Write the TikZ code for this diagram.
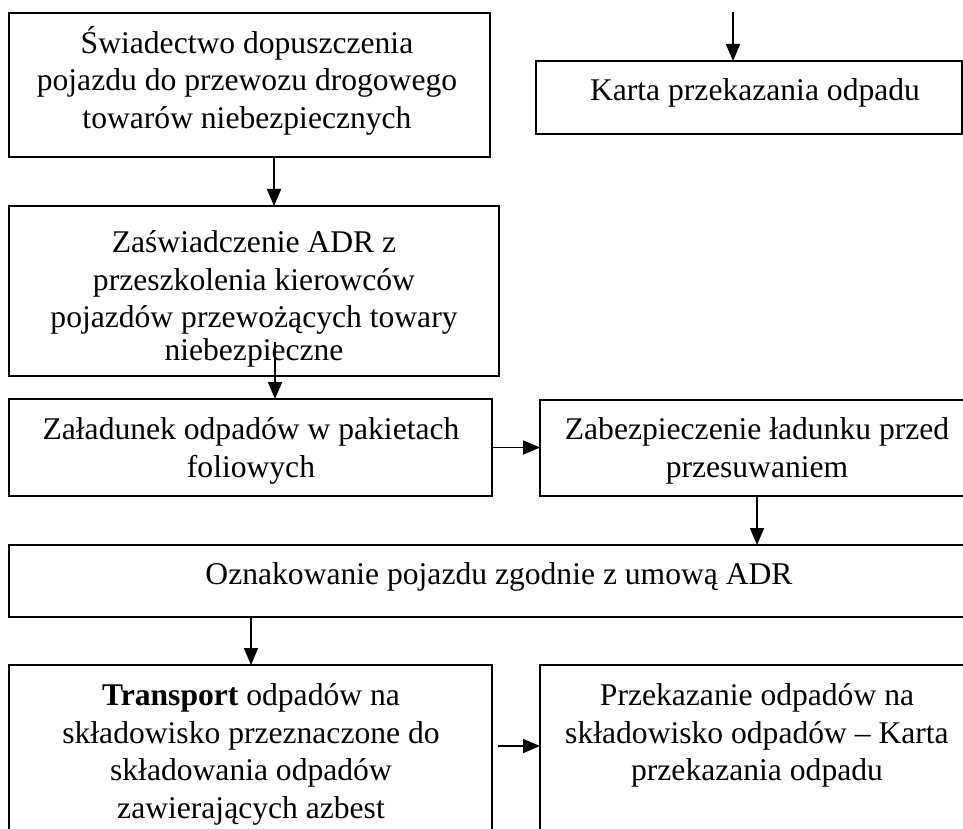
\documentclass[tikz,border=0pt]{standalone}
\usepackage{fontspec}
\setmainfont{Liberation Serif}
\usetikzlibrary{arrows.meta}
\begin{document}
\begin{tikzpicture}[x=1pt,y=-1pt,
  box/.style={draw, line width=1.8pt, anchor=north west, inner sep=0pt, outer sep=0pt},
  txt/.style={anchor=north, align=center, inner sep=0pt, font=\fontsize{31.6}{37.8}\selectfont},
  arr/.style={line width=1.8pt, -{Triangle[length=17pt,width=14pt]}}]
\useasboundingbox (0,0) rectangle (963,829);
\clip (0,0) rectangle (963,829);
% boxes
\node[box, minimum width=481pt, minimum height=144pt] (b1) at (9,13) {};
\node[box, minimum width=426pt, minimum height=73pt] (bk) at (536,61) {};
\node[box, minimum width=490pt, minimum height=170pt] (b3) at (9,206) {};
\node[box, minimum width=483pt, minimum height=97pt] (bz) at (9,399) {};
\node[box, minimum width=440pt, minimum height=96pt] (bzab) at (540,400) {};
\node[box, minimum width=970pt, minimum height=72pt] (bo) at (9,545) {};
\node[box, minimum width=483pt, minimum height=200pt] (btr) at (9,665) {};
\node[box, minimum width=440pt, minimum height=200pt] (bprz) at (540,665) {};
% texts
\node[txt] (t1) at (247,23) {\rule{0pt}{30pt}Świadectwo dopuszczenia\\pojazdu do przewozu drogowego\\towarów niebezpiecznych};
\node[txt] (tk) at (755,70) {\rule{0pt}{30pt}Karta przekazania odpadu};
\node[txt] (t3) at (254,222) {\rule{0pt}{30pt}Zaświadczenie ADR z\\przeszkolenia kierowców\\pojazdów przewożących towary\\[-5.5pt]niebezpieczne};
\node[txt] (tz) at (251,409) {\rule{0pt}{30pt}Załadunek odpadów w pakietach\\foliowych};
\node[txt] (tzab) at (757,409) {\rule{0pt}{30pt}Zabezpieczenie ładunku przed\\przesuwaniem};
\node[txt] (to) at (499,554) {\rule{0pt}{30pt}Oznakowanie pojazdu zgodnie z umową ADR};
\node[txt] (ttr) at (251,675) {\rule{0pt}{30pt}\textbf{Transport} odpadów na\\składowisko przeznaczone do\\składowania odpadów\\zawierających azbest};
\node[txt] (tprz) at (757,675) {\rule{0pt}{30pt}Przekazanie odpadów na\\składowisko odpadów – Karta\\przekazania odpadu};
% connectors
\coordinate (k0) at (733,12);
\coordinate (c3) at (275,342);
\coordinate (c7) at (498,746);
\draw[arr] ([xshift=265pt]b1.south west) coordinate (a1s) -- (a1s |- b3.north);
\draw[arr] (k0) -- (k0 |- bk.north);
\draw[arr] (c3) -- (c3 |- bz.north);
\draw[arr] (bz.east) -- (bz.east -| bzab.west);
\draw[arr] ([xshift=217pt]bzab.south west) coordinate (a5s) -- (a5s |- bo.north);
\draw[arr] ([xshift=242pt]bo.south west) coordinate (a6s) -- (a6s |- btr.north);
\draw[arr] (c7) -- (c7 -| bprz.west);
\end{tikzpicture}
\end{document}
